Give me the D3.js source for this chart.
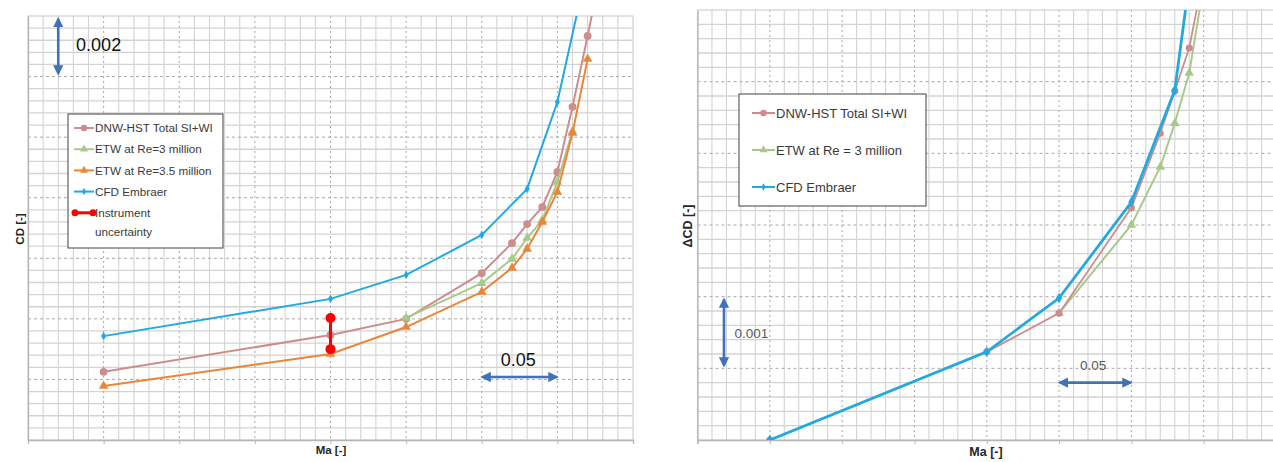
<!DOCTYPE html>
<html>
<head>
<meta charset="utf-8">
<script src="https://cdn.jsdelivr.net/npm/d3@7"></script>
<style>
  body { margin: 0; background: #fff; }
  svg { display: block; font-family: "Liberation Sans", Arial, sans-serif; }
</style>
</head>
<body>
<svg id="chart" width="1273" height="462"></svg>
<script>
// ---- data: left panel, CD against Mach ----
var maCFD = [0.50, 0.65, 0.70, 0.75, 0.78, 0.80, 0.82];
var cdCFD = [0.02343, 0.02466, 0.02545, 0.02677, 0.02829, 0.03116, 0.03565];

var maDNW = [0.50, 0.65, 0.70, 0.75, 0.77, 0.78, 0.79, 0.80, 0.81, 0.82, 0.83];
var cdDNW = [0.02225, 0.02347, 0.02400, 0.02551, 0.02650, 0.02713, 0.02769, 0.02885, 0.03100, 0.03334, 0.03580];

var maETW3 = [0.70, 0.75, 0.77, 0.78, 0.79, 0.80, 0.81];
var cdETW3 = [0.02403, 0.02518, 0.02598, 0.02667, 0.02726, 0.02852, 0.03020];

var maETW35 = [0.50, 0.65, 0.70, 0.75, 0.77, 0.78, 0.79, 0.80, 0.81, 0.82];
var cdETW35 = [0.02178, 0.02284, 0.02373, 0.02489, 0.02568, 0.02631, 0.02720, 0.02819, 0.03014, 0.03258];

var maUncert = [0.65, 0.65];
var cdUncert = [0.02300, 0.02403];

// ---- data: right panel, delta CD against Mach ----
var maDeltaCFD = [0.50, 0.65, 0.70, 0.75, 0.78, 0.80];
var dcdCFD = [0, 0.00123, 0.00198, 0.00332, 0.00488, 0.00790];

var maDeltaDNW = [0.50, 0.65, 0.70, 0.75, 0.77, 0.78, 0.79, 0.80];
var dcdDNW = [0, 0.00123, 0.00177, 0.00324, 0.00428, 0.00487, 0.00547, 0.00650];

var maDeltaETW = [0.70, 0.75, 0.77, 0.78, 0.79, 0.80];
var dcdETW = [0.00177, 0.00300, 0.00381, 0.00442, 0.00512, 0.00635];

// grid steps (no tick labels on the original)
var maMajorStep = 0.05, maMinorStep = 0.01;
var cdMajorStep = 0.002, cdMinorStep = 0.0004;
var dcdMajorStep = 0.001, dcdMinorStep = 0.0002;

var PINK = "#cd8d8e", GREEN = "#a9c98b", ORANGE = "#e8873a", BLUE = "#22a9e1", RED = "#ff0000";
var ARROW = "#3f72b6", TEXT = "#3a3a3a";

var svg = d3.select("#chart");
var defs = svg.append("defs");
defs.append("marker")
  .attr("id", "head")
  .attr("viewBox", "0 0 10 10")
  .attr("refX", 8).attr("refY", 5)
  .attr("markerWidth", 4).attr("markerHeight", 4)
  .attr("orient", "auto-start-reverse")
  .append("path")
  .attr("d", "M0,0 L10,5 L0,10 Z")
  .attr("fill", ARROW);

function steps(d0, d1, step) {
  var n = Math.round((d1 - d0) / step);
  return d3.range(n + 1).map(function(i) { return +(d0 + i * step).toFixed(6); });
}

function pairs(xs, ys) {
  return xs.map(function(v, i) { return [v, ys[i]]; });
}

function drawPanel(cfg) {
  var x = d3.scaleLinear().domain(cfg.xDomain).range(cfg.xRange);
  var y = d3.scaleLinear().domain(cfg.yDomain).range(cfg.yRange);
  var top = cfg.yRange[1], bottom = cfg.yRange[0];
  var left = cfg.xRange[0], right = cfg.xRange[1];

  var xMajor = steps(cfg.xDomain[0], cfg.xDomain[1], cfg.xMajor);
  var yMajor = steps(cfg.yDomain[0], cfg.yDomain[1], cfg.yMajor);
  var isMajor = function(list) { return function(v) { return list.some(function(m) { return Math.abs(m - v) < 1e-7; }); }; };
  var xMinor = steps(cfg.xDomain[0], cfg.xDomain[1], cfg.xMinor).filter(function(v) { return !isMajor(xMajor)(v); });
  var yMinor = steps(cfg.yDomain[0], cfg.yDomain[1], cfg.yMinor).filter(function(v) { return !isMajor(yMajor)(v); });

  var g = svg.append("g");

  defs.append("clipPath").attr("id", cfg.id + "-clip")
    .append("rect")
    .attr("x", left).attr("y", top)
    .attr("width", right - left).attr("height", bottom - top);

  // minor grid
  g.append("g").selectAll("line").data(xMinor).join("line")
    .attr("x1", function(d) { return x(d); }).attr("x2", function(d) { return x(d); })
    .attr("y1", top).attr("y2", bottom)
    .attr("stroke", "#d3d3d3").attr("stroke-width", 1.1);
  g.append("g").selectAll("line").data(yMinor).join("line")
    .attr("y1", function(d) { return y(d); }).attr("y2", function(d) { return y(d); })
    .attr("x1", left).attr("x2", right)
    .attr("stroke", "#d3d3d3").attr("stroke-width", 1.3);

  // major grid, dashed (inner lines only)
  g.append("g").selectAll("line").data(xMajor.slice(1, -1)).join("line")
    .attr("x1", function(d) { return x(d); }).attr("x2", function(d) { return x(d); })
    .attr("y1", top).attr("y2", bottom)
    .attr("stroke", "#a8a8a8").attr("stroke-width", 1).attr("stroke-dasharray", "2,3");
  g.append("g").selectAll("line").data(yMajor.slice(1, -1)).join("line")
    .attr("y1", function(d) { return y(d); }).attr("y2", function(d) { return y(d); })
    .attr("x1", left).attr("x2", right)
    .attr("stroke", "#a8a8a8").attr("stroke-width", 1).attr("stroke-dasharray", "3,3");

  // plot frame
  g.append("rect")
    .attr("x", left).attr("y", top)
    .attr("width", right - left).attr("height", bottom - top)
    .attr("fill", "none").attr("stroke", "#cfcfcf").attr("stroke-width", 1.2);

  // axes without labels
  var xAxis = g.append("g")
    .attr("transform", "translate(0," + bottom + ")")
    .call(d3.axisBottom(x).tickValues(xMajor).tickSize(4).tickFormat(""));
  var yAxis = g.append("g")
    .attr("transform", "translate(" + left + ",0)")
    .call(d3.axisLeft(y).tickValues(yMajor).tickSize(0).tickFormat(""));
  [xAxis, yAxis].forEach(function(a) {
    a.select(".domain").attr("stroke", "#b5b5b5").attr("stroke-width", 1.3);
    a.selectAll(".tick line").attr("stroke", "#b5b5b5");
  });

  // series
  var plot = g.append("g").attr("clip-path", "url(#" + cfg.id + "-clip)");
  var line = d3.line().x(function(d) { return x(d[0]); }).y(function(d) { return y(d[1]); });
  cfg.series.forEach(function(s) {
    var pts = pairs(s.xs, s.ys);
    plot.append("path").datum(pts)
      .attr("d", line)
      .attr("fill", "none")
      .attr("stroke", s.color)
      .attr("stroke-width", s.width);
    plot.append("g").selectAll("path").data(pts).join("path")
      .attr("transform", function(d) { return "translate(" + x(d[0]) + "," + y(d[1]) + ")"; })
      .attr("d", d3.symbol().type(s.symbol).size(s.size))
      .attr("fill", s.color);
  });

  if (cfg.uncert) {
    var u = pairs(cfg.uncert.xs, cfg.uncert.ys);
    plot.append("path").datum(u).attr("d", line)
      .attr("stroke", RED).attr("stroke-width", 3).attr("fill", "none");
    plot.append("g").selectAll("circle").data(u).join("circle")
      .attr("cx", function(d) { return x(d[0]); })
      .attr("cy", function(d) { return y(d[1]); })
      .attr("r", 5).attr("fill", RED);
  }

  // scale arrows
  cfg.arrows.forEach(function(a) {
    g.append("line")
      .attr("x1", x(a.x[0])).attr("x2", x(a.x[1]))
      .attr("y1", y(a.y[0])).attr("y2", y(a.y[1]))
      .attr("stroke", ARROW).attr("stroke-width", 2.6)
      .attr("marker-start", "url(#head)").attr("marker-end", "url(#head)");
    g.append("text")
      .attr("x", x(a.label[0])).attr("y", y(a.label[1]))
      .attr("font-size", a.fontSize)
      .attr("fill", a.color)
      .text(a.text);
  });

  // legend
  var L = cfg.legend;
  var lg = g.append("g").attr("transform", "translate(" + L.x + "," + L.y + ")");
  lg.append("rect")
    .attr("width", L.w).attr("height", L.h)
    .attr("fill", "#fff").attr("stroke", "#404040").attr("stroke-width", 1);
  L.items.forEach(function(it, i) {
    var row = lg.append("g").attr("transform", "translate(0," + (L.first + i * L.gap) + ")");
    row.append("line")
      .attr("x1", L.lx0).attr("x2", L.lx1)
      .attr("stroke", it.color).attr("stroke-width", it.width || 2);
    if (it.uncert) {
      row.append("circle").attr("cx", L.lx0 + 1).attr("r", 3.5).attr("fill", RED);
      row.append("circle").attr("cx", L.lx1 - 1).attr("r", 3.5).attr("fill", RED);
    } else {
      row.append("path")
        .attr("transform", "translate(" + (L.lx0 + L.lx1) / 2 + ",0)")
        .attr("d", d3.symbol().type(it.symbol).size(it.size * 0.7))
        .attr("fill", it.color);
    }
    it.text.forEach(function(t, j) {
      row.append("text")
        .attr("x", L.tx).attr("y", j * L.lineH)
        .attr("dy", "0.35em")
        .attr("font-size", L.fontSize)
        .attr("fill", TEXT)
        .text(t);
    });
  });

  // axis titles
  svg.append("text")
    .attr("x", cfg.xTitle[0]).attr("y", cfg.xTitle[1])
    .attr("text-anchor", "middle")
    .attr("font-weight", "bold").attr("font-size", cfg.titleSize)
    .attr("fill", "#262626")
    .text("Ma [-]");
  svg.append("text")
    .attr("transform", "translate(" + cfg.yTitle[0] + "," + cfg.yTitle[1] + ") rotate(-90)")
    .attr("text-anchor", "middle")
    .attr("font-weight", "bold").attr("font-size", cfg.titleSize)
    .attr("fill", "#262626")
    .text(cfg.yTitleText);
}

var dnwSeries = { label: "DNW-HST Total SI+WI", color: PINK, symbol: d3.symbolCircle, size: 48, width: 2 };
var etw3Series = { label: "ETW at Re=3 million", color: GREEN, symbol: d3.symbolTriangle, size: 40, width: 2 };
var etw35Series = { label: "ETW at Re=3.5 million", color: ORANGE, symbol: d3.symbolTriangle, size: 40, width: 2 };
var cfdSeries = { label: "CFD Embraer", color: BLUE, symbol: d3.symbolDiamond, size: 22, width: 2 };

drawPanel({
  id: "left",
  xDomain: [0.45, 0.85], xRange: [28, 633],
  yDomain: [0.020, 0.034], yRange: [440, 16],
  xMajor: maMajorStep, xMinor: maMinorStep,
  yMajor: cdMajorStep, yMinor: cdMinorStep,
  series: [
    Object.assign({ xs: maDNW, ys: cdDNW }, dnwSeries),
    Object.assign({ xs: maETW3, ys: cdETW3 }, etw3Series),
    Object.assign({ xs: maETW35, ys: cdETW35 }, etw35Series),
    Object.assign({ xs: maCFD, ys: cdCFD }, cfdSeries)
  ],
  uncert: { xs: maUncert, ys: cdUncert },
  arrows: [
    { x: [0.47, 0.47], y: [0.0339, 0.0321], label: [0.4818, 0.03285], text: "0.002", fontSize: 18, color: "#111" },
    { x: [0.7505, 0.7995], y: [0.02208, 0.02208], label: [0.7625, 0.02243], text: "0.05", fontSize: 18, color: "#111" }
  ],
  legend: {
    x: 68, y: 114, w: 155, h: 134,
    first: 14, gap: 21.2, lineH: 19,
    lx0: 6, lx1: 26, tx: 27, fontSize: 11.7,
    items: [
      Object.assign({ text: ["DNW-HST Total SI+WI"] }, dnwSeries),
      Object.assign({ text: ["ETW at Re=3 million"] }, etw3Series),
      Object.assign({ text: ["ETW at Re=3.5 million"] }, etw35Series),
      Object.assign({ text: ["CFD Embraer"] }, cfdSeries),
      { text: ["Instrument", "uncertainty"], color: RED, width: 3, uncert: true }
    ]
  },
  xTitle: [331, 454], yTitle: [24, 229], yTitleText: "CD [-]", titleSize: 11.5
});

drawPanel({
  id: "right",
  xDomain: [0.45, 0.85], xRange: [697.5, 1276],
  yDomain: [0, 0.006], yRange: [440, 10],
  xMajor: maMajorStep, xMinor: maMinorStep,
  yMajor: dcdMajorStep, yMinor: dcdMinorStep,
  series: [
    Object.assign({ xs: maDeltaETW, ys: dcdETW }, etw3Series, { width: 2 }),
    Object.assign({ xs: maDeltaDNW, ys: dcdDNW }, dnwSeries, { width: 1.8, size: 40 }),
    Object.assign({ xs: maDeltaCFD, ys: dcdCFD }, cfdSeries, { width: 2.8, size: 34 })
  ],
  arrows: [
    { x: [0.4683, 0.4683], y: [0.00196, 0.00104], label: [0.4755, 0.00142], text: "0.001", fontSize: 13.5, color: "#595959" },
    { x: [0.7005, 0.7495], y: [0.00080, 0.00080], label: [0.7145, 0.00098], text: "0.05", fontSize: 13.5, color: "#595959" }
  ],
  legend: {
    x: 739, y: 94, w: 187, h: 112,
    first: 19, gap: 37, lineH: 16,
    lx0: 13, lx1: 36, tx: 37, fontSize: 13,
    items: [
      Object.assign({ text: ["DNW-HST Total SI+WI"] }, dnwSeries),
      Object.assign({ text: ["ETW at Re = 3 million"] }, etw3Series),
      Object.assign({ text: ["CFD Embraer"] }, cfdSeries)
    ]
  },
  xTitle: [986, 456], yTitle: [692, 226], yTitleText: "\u0394CD [-]", titleSize: 12.5
});
</script>
</body>
</html>
